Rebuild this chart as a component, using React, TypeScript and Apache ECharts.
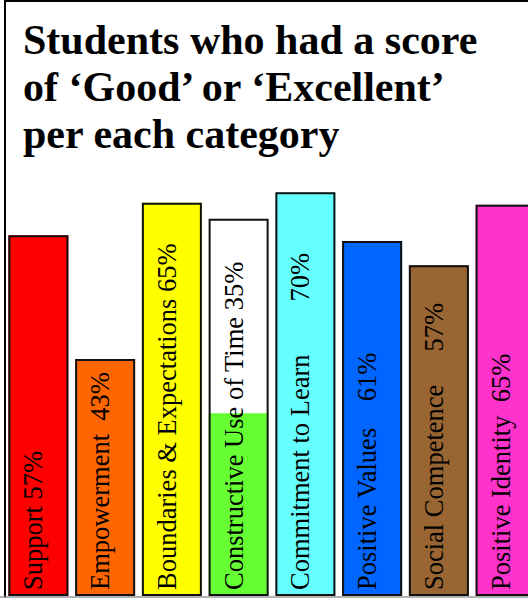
import React, { useEffect, useRef } from "react";
import * as echarts from "echarts";

// Category labels as printed inside the bars
const categories = [
  "Support 57%",
  "Empowerment  43%",
  "Boundaries & Expectations 65%",
  "Constructive Use of Time 35%",
  "Commitment to Learn        70%",
  "Positive Values    61%",
  "Social Competence     57%",
  "Positive Identity  65%",
];
// Drawn bar heights (relative units)
const barHeights = [88.0, 57.8, 95.9, 92.0, 98.5, 86.6, 80.7, 95.4];
// Green filled portion of the "Constructive Use of Time" bar
const constructiveFill = ["-", "-", "-", 44.6, "-", "-", "-", "-"];
const barColors = ["#FF0000", "#FF6600", "#FFFF00", "#FFFFFF", "#66FFFF", "#0066FF", "#996633", "#FF33CC"];
const titleLines = ["Students who had a score", "of \u2018Good\u2019 or \u2018Excellent\u2019", "per each category"];

export default function App() {
  const ref = useRef<HTMLDivElement>(null);
  useEffect(() => {
    if (!ref.current) return;
    const chart = echarts.init(ref.current, null, { renderer: "svg" });
    const serif = "'Liberation Serif', 'Times New Roman', serif";
    chart.setOption({
      animation: false,
      backgroundColor: "#ffffff",
      title: {
        text: titleLines.join("\n"),
        left: 23,
        top: 16,
        padding: 0,
        textStyle: { fontFamily: serif, fontWeight: "bold", fontSize: 42, lineHeight: 47, color: "#000" },
      },
      graphic: [
        { type: "polyline", z: 0, shape: { points: [[5, 598], [5, 1], [620, 1]] }, style: { stroke: "#000", lineWidth: 2, fill: null } },
        { type: "line", z: 0, shape: { x1: 0, y1: 597, x2: 528, y2: 597 }, style: { stroke: "#999", lineWidth: 1.5 } },
      ],
      grid: { left: 5, right: -11, top: 186, bottom: 2, containLabel: false, outerBoundsMode: "none" },
      xAxis: {
        type: "category",
        data: categories,
        axisLine: { show: false },
        axisTick: { show: false },
        axisLabel: { show: false },
      },
      yAxis: { type: "value", min: 0, max: 100, show: false, splitLine: { show: false } },
      series: [
        {
          type: "bar",
          barWidth: 60,
          barGap: "-100%",
          data: barHeights.map((v, i) => ({ value: v, itemStyle: { color: barColors[i] } })),
          itemStyle: { borderWidth: 0 },
          z: 2,
        },
        {
          type: "bar",
          barWidth: 60,
          barGap: "-100%",
          data: constructiveFill,
          itemStyle: { color: "#66FF33", borderWidth: 0 },
          z: 3,
        },
        {
          type: "bar",
          barWidth: 60,
          barGap: "-100%",
          data: barHeights,
          itemStyle: { color: "rgba(0,0,0,0)", borderColor: "#111", borderWidth: 2 },
          z: 4,
          label: {
            show: true,
            position: "insideBottom",
            rotate: 90,
            align: "left",
            verticalAlign: "middle",
            distance: 6,
            offset: [0, -5],
            formatter: (p: any) => categories[p.dataIndex],
            fontFamily: serif,
            fontSize: 26.5,
            color: "#000",
          },
        },
      ],
    });
    return () => chart.dispose();
  }, []);
  return <div ref={ref} style={{ position: "absolute", left: 0, top: 0, width: 528, height: 598 }} />;
}
